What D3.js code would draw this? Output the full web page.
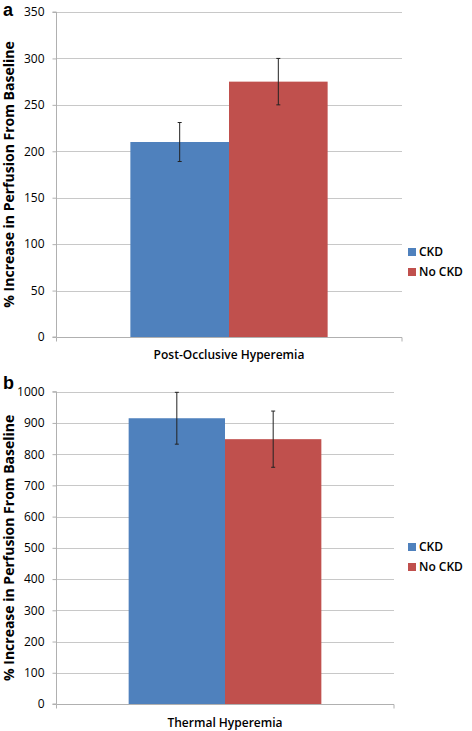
<!DOCTYPE html>
<html><head><meta charset="utf-8">
<script src="https://cdn.jsdelivr.net/npm/d3@7/dist/d3.min.js"></script>
<style>
body{margin:0;background:#fff;}
text{font-family:"Open Sans",Arial,sans-serif;fill:#000;}
</style></head>
<body>
<svg id="chart" width="472" height="731"></svg>
<script>
const groups = ["CKD", "No CKD"];
const colors = ["#4f81bd", "#c0504d"];
const categoriesA = ["Post-Occlusive Hyperemia"];
const valuesA = [210, 275];
const errorsA = [21, 25];
const ticksA = [0, 50, 100, 150, 200, 250, 300, 350];
const categoriesB = ["Thermal Hyperemia"];
const valuesB = [915, 848];
const errorsB = [83, 90];
const ticksB = [0, 100, 200, 300, 400, 500, 600, 700, 800, 900, 1000];
const yTitle = "% Increase in Perfusion From Baseline";

const svg = d3.select("#chart");

function panel(opts) {
  const {label, categories, values, errors, ticks, x0, x1, yTop, yBot, legendY, labelY} = opts;
  const g = svg.append("g");
  const y = d3.scaleLinear().domain([0, ticks[ticks.length-1]]).range([yBot, yTop]);
  const xb = d3.scaleBand().domain(categories).range([x0, x1]).paddingInner(0).paddingOuter(0.377);
  const xg = d3.scaleBand().domain(groups).range([0, xb.bandwidth()]).padding(0);

  // gridlines
  g.selectAll(".grid").data(ticks.slice(1)).join("line")
    .attr("x1", x0).attr("x2", x1)
    .attr("y1", d => Math.round(y(d)) + 0.5).attr("y2", d => Math.round(y(d)) + 0.5)
    .attr("stroke", "#c8c8c8").attr("stroke-width", 1);

  // y axis
  const ya = g.append("g").attr("transform", `translate(${x0 + 0.5},0)`)
    .call(d3.axisLeft(y).tickValues(ticks).tickFormat(d3.format("d")).tickSize(4).tickPadding(8));
  ya.select(".domain").attr("stroke", "#b0b0b0").attr("d", `M-4,${yTop}H0V${yBot}H-4`);
  ya.selectAll(".tick line").attr("stroke", "#b0b0b0");
  ya.selectAll(".tick text").style("font-size", "12px").style("font-family", "'Open Sans',Arial,sans-serif").attr("fill", "#1a1a1a");

  // bars
  const data = groups.map((gname, i) => ({g: gname, v: values[i], e: errors[i], c: colors[i], cat: categories[0]}));
  g.selectAll(".bar").data(data).join("rect")
    .attr("x", d => xb(d.cat) + xg(d.g))
    .attr("width", xg.bandwidth())
    .attr("y", d => y(d.v))
    .attr("height", d => y(0) - y(d.v))
    .attr("fill", d => d.c);

  // x axis line
  const yb = Math.round(yBot) + 0.5;
  g.append("path").attr("d", `M${x0 + 0.5},${yb}H${x1}V${yb + 4}`).attr("fill", "none").attr("stroke", "#b0b0b0");
  g.append("line").attr("x1", x0 + 0.5).attr("x2", x0 + 0.5).attr("y1", yb).attr("y2", yb + 4).attr("stroke", "#b0b0b0");

  // error bars
  const eb = g.selectAll(".err").data(data).join("g");
  eb.append("line")
    .attr("x1", d => xb(d.cat) + xg(d.g) + xg.bandwidth()/2).attr("x2", d => xb(d.cat) + xg(d.g) + xg.bandwidth()/2)
    .attr("y1", d => y(d.v + d.e)).attr("y2", d => y(d.v - d.e))
    .attr("stroke", "#222").attr("stroke-width", 1);
  [1, -1].forEach(s => {
    eb.append("line")
      .attr("x1", d => xb(d.cat) + xg(d.g) + xg.bandwidth()/2 - 2).attr("x2", d => xb(d.cat) + xg(d.g) + xg.bandwidth()/2 + 2)
      .attr("y1", d => y(d.v + s*d.e)).attr("y2", d => y(d.v + s*d.e))
      .attr("stroke", "#222").attr("stroke-width", 1);
  });

  // category label
  g.append("text").attr("x", xb(categories[0]) + xb.bandwidth()/2).attr("y", labelY)
    .attr("text-anchor", "middle").style("font-size", "12px").style("font-weight", "600").text(categories[0]);

  // legend
  const lg = g.selectAll(".leg").data(groups).join("g")
    .attr("transform", (d, i) => `translate(408,${legendY + i*20})`);
  lg.append("rect").attr("x", 0).attr("y", -4).attr("width", 8).attr("height", 8).attr("fill", (d, i) => colors[i]);
  lg.append("text").attr("x", 11).attr("y", 0).attr("dy", "0.36em").style("font-size", "12px").style("font-weight", "600").text(d => d);

  // y title
  g.append("text").attr("transform", `translate(14,${(yTop + yBot)/2}) rotate(-90)`)
    .attr("text-anchor", "middle").style("font-size", "14px").style("font-weight", "700").text(yTitle);

  // panel label
  g.append("text").attr("x", 3).attr("y", label.y).style("font-size", "18px").style("font-weight", "700")
    .style("font-family", "Arial,'Liberation Sans',sans-serif").text(label.t);
}

panel({label: {t: "a", y: 16}, categories: categoriesA, values: valuesA, errors: errorsA, ticks: ticksA,
  x0: 56, x1: 402, yTop: 12, yBot: 337, legendY: 252, labelY: 359});
panel({label: {t: "b", y: 389}, categories: categoriesB, values: valuesB, errors: errorsB, ticks: ticksB,
  x0: 56, x1: 394, yTop: 391.7, yBot: 704, legendY: 547, labelY: 727});
</script>
</body></html>
